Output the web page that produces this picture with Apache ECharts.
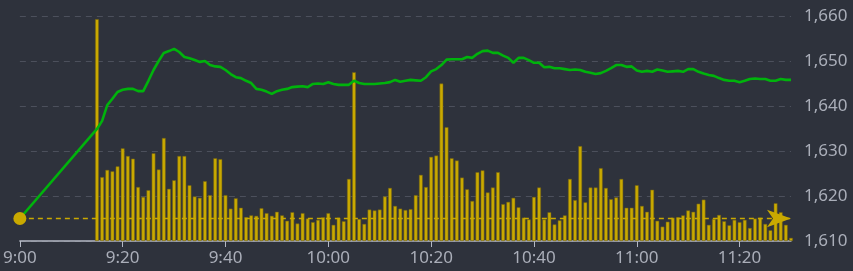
<!DOCTYPE html>
<html>
<head>
<meta charset="utf-8">
<script src="https://cdn.jsdelivr.net/npm/echarts@6/dist/echarts.min.js"></script>
<style>
html,body{margin:0;padding:0;background:#2e323c;}
#chart{width:853px;height:271px;}
</style>
</head>
<body>
<div id="chart"></div>
<script>
// Session start price (9:00) and reference line level
const openPrice = 1615;
const refLevel = 1615;
// Per-minute prices from 9:15 to 11:30
const prices = [
1634.9,1636.7,1640.2,1641.6,1643.1,1643.6,1643.8,1643.8,1643.3,1643.3,
1645.6,1648.0,1650.0,1651.8,1652.2,1652.7,1652.0,1650.9,1650.6,1650.2,
1649.8,1650.0,1649.1,1648.8,1648.7,1648.0,1647.1,1646.4,1646.2,1645.6,
1645.1,1643.8,1643.6,1643.2,1642.7,1643.3,1643.6,1643.8,1644.2,1644.3,
1644.4,1644.2,1644.9,1645.0,1644.9,1645.3,1644.9,1644.7,1644.7,1644.7,
1645.6,1645.1,1644.9,1644.9,1644.9,1645.0,1645.1,1645.3,1645.8,1645.4,
1645.6,1645.8,1645.7,1645.6,1646.4,1647.7,1648.2,1649.1,1650.3,1650.4,
1650.4,1650.4,1650.9,1650.7,1651.6,1652.2,1652.3,1651.8,1651.8,1651.2,
1650.7,1649.6,1650.7,1650.7,1650.2,1649.6,1649.6,1648.6,1648.7,1648.4,
1648.4,1648.2,1648.0,1648.1,1648.0,1647.6,1647.4,1647.1,1647.3,1647.8,
1648.4,1649.1,1649.1,1648.7,1648.8,1647.9,1647.6,1647.8,1647.6,1648.1,
1647.9,1647.6,1647.7,1647.8,1647.6,1648.2,1648.2,1647.6,1647.2,1646.9,
1646.7,1646.2,1645.8,1645.6,1645.6,1645.3,1645.6,1646.0,1646.1,1646.0,
1646.0,1645.6,1645.6,1646.0,1645.8,1645.8
];
// Per-minute volumes from 9:15 to 11:30
const volumes = [
49.3,14.2,15.8,15.5,16.6,20.6,18.9,18.3,12.0,9.8,
11.3,19.5,15.9,22.9,11.6,13.5,18.9,18.9,12.4,9.9,
9.6,13.3,10.2,18.4,18.2,10.2,7.2,9.5,7.4,5.3,
5.7,5.6,7.3,6.2,5.6,6.5,5.7,4.5,6.4,3.9,
6.2,5.0,4.2,4.7,5.3,6.2,3.6,5.2,4.4,13.8,
37.5,4.9,3.8,7.0,6.8,7.0,9.9,11.8,7.8,7.2,
6.9,7.1,10.2,14.7,12.0,18.7,19.0,35.0,25.3,18.4,
17.9,14.1,11.5,8.9,15.3,15.7,10.8,11.9,15.3,8.2,
8.7,9.6,7.5,5.2,4.8,9.8,11.9,4.8,6.4,3.7,
4.6,5.7,13.8,9.1,21.1,8.6,11.9,11.9,16.2,11.8,
9.3,9.7,13.8,7.4,7.4,12.4,7.8,6.5,11.4,4.5,
3.2,4.3,5.2,5.3,5.7,6.8,6.5,8.3,9.2,3.6,
4.9,5.8,4.4,3.5,4.7,4.2,4.7,2.9,5.0,5.2,
3.8,2.4,8.4,6.4,3.6,0.7
];
const yTicks = [1610, 1620, 1630, 1640, 1650, 1660];

// Minute categories 9:00 .. 11:30
const startMin = 9 * 60, endMin = 11 * 60 + 30, dataStart = 9 * 60 + 15;
const categories = [];
for (let t = startMin; t <= endMin; t++) {
  categories.push(Math.floor(t / 60) + ':' + String(t % 60).padStart(2, '0'));
}
const gap = dataStart - startMin;
const priceData = [openPrice];
const volData = [null];
for (let i = 1; i < gap; i++) { priceData.push(null); volData.push(null); }
prices.forEach(v => priceData.push(v));
volumes.forEach(v => volData.push(v));

const chart = echarts.init(document.getElementById('chart'), null, {renderer: 'canvas'});
const labelColor = '#aaaeb9';
chart.setOption({
  backgroundColor: '#2e323c',
  animation: false,
  grid: {left: 16, right: 62, top: 16, bottom: 30, containLabel: false},
  xAxis: {
    type: 'category',
    data: categories,
    boundaryGap: false,
    axisLine: {lineStyle: {color: '#b4b8c4', width: 1.5}},
    axisTick: {interval: 19, length: 6, lineStyle: {color: '#b4b8c4'}},
    axisLabel: {interval: 19, color: labelColor, fontSize: 17, margin: 9, fontFamily: 'Noto Sans'},
    splitLine: {show: false}
  },
  yAxis: [{
    type: 'value',
    position: 'right',
    min: yTicks[0],
    max: yTicks[yTicks.length - 1],
    interval: 10,
    axisLine: {show: false},
    axisTick: {show: false},
    axisLabel: {color: labelColor, fontSize: 17, margin: 13, fontFamily: 'Noto Sans',
      formatter: v => v.toLocaleString('en-US')},
    splitLine: {lineStyle: {color: '#4c505c', type: [6, 5], width: 1}}
  }, {
    type: 'value',
    min: 0,
    max: 50,
    show: false,
    splitLine: {show: false}
  }],
  series: [{
    type: 'bar',
    yAxisIndex: 1,
    data: volData,
    barWidth: '74%',
    itemStyle: {color: '#c9a900', borderColor: 'rgba(110,95,20,0.9)', borderWidth: 0.6},
    z: 2
  }, {
    type: 'line',
    data: priceData,
    connectNulls: true,
    showSymbol: false,
    symbol: 'none',
    lineStyle: {color: '#00b30c', width: 2.6},
    z: 3,
    markLine: {
      silent: true,
      symbol: ['circle', 'arrow'],
      symbolSize: [13, 24],
      label: {show: false},
      lineStyle: {color: '#c9a900', type: [5, 4], width: 1.3},
      data: [{yAxis: refLevel}]
    }
  }]
});
</script>
</body>
</html>
